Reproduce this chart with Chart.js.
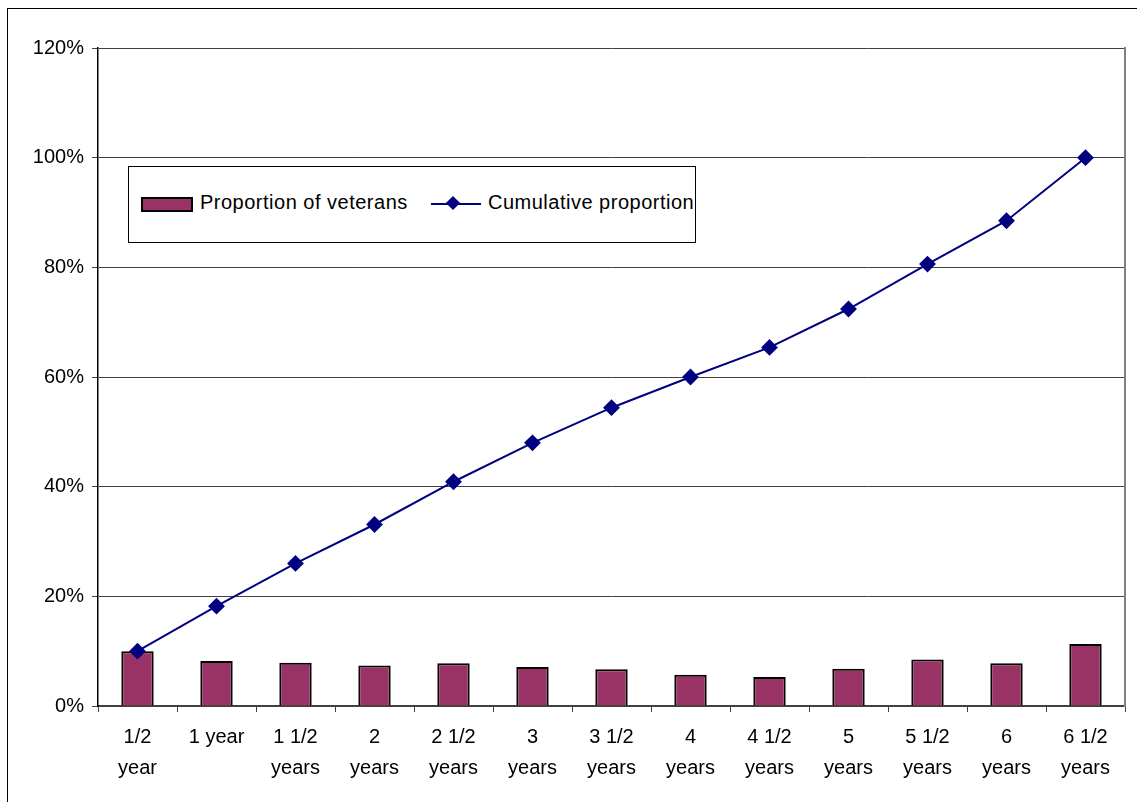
<!DOCTYPE html>
<html>
<head>
<meta charset="utf-8">
<script src="https://cdn.jsdelivr.net/npm/chart.js@4.4.1/dist/chart.umd.min.js"></script>
<style>
	html, body { margin: 0; padding: 0; background: #fff; overflow: hidden; }
	#wrap { position: relative; width: 1137px; height: 802px; }
	#frame { position: absolute; left: 7px; top: 8px; width: 1140px; height: 810px; border: 1.5px solid #000; box-sizing: border-box; }
	#mycanvas1 { position: absolute; left: 0; top: 0; }
	#legend { position: absolute; left: 128px; top: 166px; width: 568px; height: 77px; border: 1px solid #000; box-sizing: border-box; background: #fff;
		font-family: "Liberation Sans", Arial, sans-serif; font-size: 20px; color: #000; letter-spacing: 0.5px; }
	.swatch { position: absolute; left: 12px; top: 30px; width: 48px; height: 11px; background: #993366; border: 2px solid #000; }
	.lbl { position: absolute; top: 24px; white-space: nowrap; }
	.lineSample { position: absolute; left: 302px; top: 36px; width: 50px; height: 2px; background: #000080; }
	.diamond { position: absolute; left: 319px; top: 31px; width: 10px; height: 10px; background: #000080; transform: rotate(45deg); }
</style>
</head>
<body>
<div id="wrap">
	<canvas id="mycanvas1" width="1137" height="802"></canvas>
	<div id="frame"></div>
	<div id="legend">
		<div class="swatch"></div>
		<div class="lbl" style="left:71px;">Proportion of veterans</div>
		<div class="lineSample"></div>
		<div class="diamond"></div>
		<div class="lbl" style="left:359px;">Cumulative proportion</div>
	</div>
</div>
<script>
	var periods = [["1/2", "year"], "1 year", ["1 1/2", "years"], ["2", "years"], ["2 1/2", "years"], ["3", "years"], ["3 1/2", "years"],
		["4", "years"], ["4 1/2", "years"], ["5", "years"], ["5 1/2", "years"], ["6", "years"], ["6 1/2", "years"]];
	var proportion = [10.0, 8.2, 7.9, 7.4, 7.8, 7.1, 6.7, 5.7, 5.3, 6.8, 8.5, 7.8, 11.3];
	var cumulative = [10.0, 18.2, 26.0, 33.1, 40.9, 48.0, 54.4, 60.0, 65.4, 72.4, 80.6, 88.5, 100.0];
	var yTicks = [0, 20, 40, 60, 80, 100, 120];

	var font = { family: "'Liberation Sans', Arial, sans-serif", size: 20 };

	var chartdata = {
		labels: periods,
		datasets: [
			{
				type: 'line',
				label: "Cumulative proportion",
				data: cumulative,
				borderColor: "#000080",
				backgroundColor: "#000080",
				borderWidth: 2,
				pointStyle: 'rectRot',
				pointRadius: 7,
				pointBackgroundColor: "#000080",
				pointBorderColor: "#000080",
				lineTension: 0,
				fill: false,
				order: 0
			},
			{
				type: 'bar',
				label: "Proportion of veterans",
				data: proportion,
				backgroundColor: "#993366",
				borderColor: "#000",
				borderWidth: 2,
				categoryPercentage: 1,
				barPercentage: 0.41,
				order: 1
			}
		]
	};

	var ctx = document.getElementById("mycanvas1");

	var LineGraph = new Chart(ctx, {
		type: 'bar',
		data: chartdata,
		options: {
			responsive: false,
			animation: false,
			layout: { padding: { left: 0, right: 12, top: 48, bottom: 0 } },
			plugins: { legend: { display: false }, tooltip: { enabled: false } },
			scales: {
				x: {
					offset: true,
					grid: { offset: true, drawOnChartArea: false, drawTicks: true, tickLength: 6, color: "#404040" },
					border: { color: "#404040", width: 1.5 },
					ticks: { font: { family: font.family, size: 20, lineHeight: 1.55 }, color: "#000", padding: 10, maxRotation: 0, autoSkip: false },
					afterFit: function(scale) { scale.height = 96; }
				},
				y: {
					min: 0,
					max: 120,
					afterBuildTicks: function(scale) { scale.ticks = yTicks.map(function(v) { return { value: v }; }); },
					grid: { color: "#404040", lineWidth: 1, tickLength: 6 },
					border: { color: "#000", width: 1.5 },
					ticks: { font: font, color: "#000", padding: 8, callback: function(v) { return v + "%"; } },
					afterFit: function(scale) { scale.width = 98; }
				},
				y2: {
					position: 'right',
					min: 0,
					max: 120,
					grid: { drawOnChartArea: false, drawTicks: false },
					border: { color: "#808080", width: 2 },
					ticks: { display: false },
					afterFit: function(scale) { scale.width = 0; }
				}
			}
		}
	});
</script>
</body>
</html>
